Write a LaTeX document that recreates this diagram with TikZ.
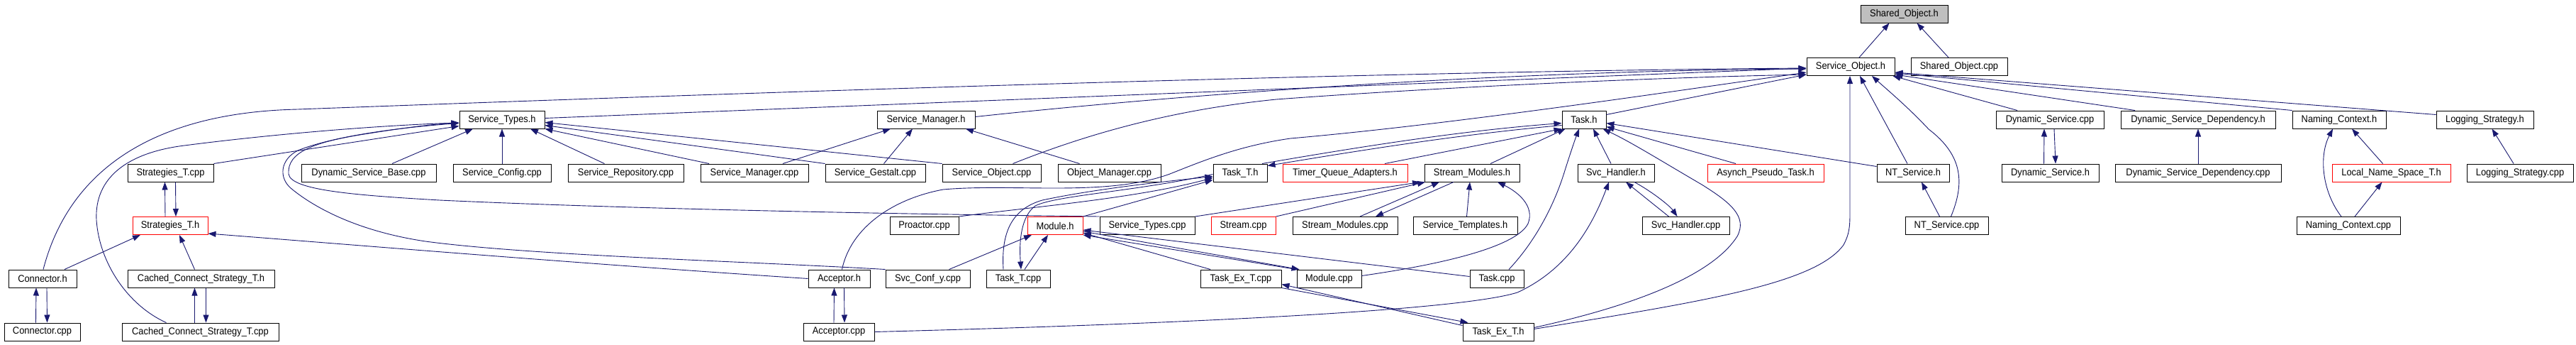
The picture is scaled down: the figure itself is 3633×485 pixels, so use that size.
\documentclass[tikz,border=0pt]{standalone}
\usepackage{fontspec}
\setmainfont{Liberation Sans}[FakeStretch=0.92]
\usetikzlibrary{arrows.meta}
\definecolor{edgeblue}{HTML}{191970}
\definecolor{rootgray}{HTML}{BFBFBF}
\tikzset{
  nbox/.style={draw=black, fill=white, line width=1pt, minimum height=25pt, inner sep=0pt, font=\fontsize{14}{16}\selectfont},
  rbox/.style={nbox, draw=red},
  gbox/.style={nbox, fill=rootgray},
  edge/.style={draw=edgeblue, line width=0.9pt, -{Triangle[length=11pt,width=8pt]}}
}
\begin{document}
\begin{tikzpicture}[x=1pt,y=-1pt]
\fill[white] (0,0) rectangle (3633,485);
\useasboundingbox (0,0) rectangle (3633,485);
% row 0
\node[gbox, minimum width=123pt] (sharedh) at (2685.5,19.5) {Shared\_Object.h};
% row 1
\node[nbox, minimum width=124pt] (svcobjh) at (2610,94) {Service\_Object.h};
\node[nbox, minimum width=136pt] (sharedcpp) at (2763,94) {Shared\_Object.cpp};
% row 2
\node[nbox, minimum width=120pt] (svctypesh) at (708,168.5) {Service\_Types.h};
\node[nbox, minimum width=138pt] (svcmgrh) at (1306,168.5) {Service\_Manager.h};
\node[nbox, minimum width=62pt] (taskh) at (2234,168.5) {Task.h};
\node[nbox, minimum width=152pt] (dyncpp) at (2891,168.5) {Dynamic\_Service.cpp};
\node[nbox, minimum width=218pt] (dsdh) at (3100,168.5) {Dynamic\_Service\_Dependency.h};
\node[nbox, minimum width=132pt] (nch) at (3299,168.5) {Naming\_Context.h};
\node[nbox, minimum width=137pt] (logh) at (3504.5,168.5) {Logging\_Strategy.h};
% row 3
\node[nbox, minimum width=121pt] (stratcpp) at (240.5,243.5) {Strategies\_T.cpp};
\node[nbox, minimum width=190pt] (dsbase) at (520,243.5) {Dynamic\_Service\_Base.cpp};
\node[nbox, minimum width=138pt] (svcconf) at (708,243.5) {Service\_Config.cpp};
\node[nbox, minimum width=163pt] (svcrepo) at (882.5,243.5) {Service\_Repository.cpp};
\node[nbox, minimum width=152pt] (svcmgrcpp) at (1064,243.5) {Service\_Manager.cpp};
\node[nbox, minimum width=141pt] (gestalt) at (1234.5,243.5) {Service\_Gestalt.cpp};
\node[nbox, minimum width=139pt] (svcobjcpp) at (1398.5,243.5) {Service\_Object.cpp};
\node[nbox, minimum width=145pt] (objmgr) at (1564.5,243.5) {Object\_Manager.cpp};
\node[nbox, minimum width=76pt] (tasktH) at (1749,243.5) {Task\_T.h};
\node[rbox, minimum width=176pt] (tqa) at (1897,243.5) {Timer\_Queue\_Adapters.h};
\node[nbox, minimum width=134pt] (smh) at (2076,243.5) {Stream\_Modules.h};
\node[nbox, minimum width=108pt] (svchh) at (2279,243.5) {Svc\_Handler.h};
\node[rbox, minimum width=164pt] (apt) at (2490,243.5) {Asynch\_Pseudo\_Task.h};
\node[nbox, minimum width=102pt] (nth) at (2698,243.5) {NT\_Service.h};
\node[nbox, minimum width=137pt] (dynh) at (2891.5,243.5) {Dynamic\_Service.h};
\node[nbox, minimum width=234pt] (dsdcpp) at (3100,243.5) {Dynamic\_Service\_Dependency.cpp};
\node[rbox, minimum width=167pt] (lnst) at (3372.5,243.5) {Local\_Name\_Space\_T.h};
\node[nbox, minimum width=150pt] (logcpp) at (3554,243.5) {Logging\_Strategy.cpp};
% row 4
\node[rbox, minimum width=106pt] (strath) at (240,318) {Strategies\_T.h};
\node[nbox, minimum width=97pt] (proactor) at (1303.5,318) {Proactor.cpp};
\node[rbox, minimum width=78pt] (moduleh) at (1488,318) {Module.h};
\node[nbox, minimum width=134pt] (svctypescpp) at (1618,318) {Service\_Types.cpp};
\node[rbox, minimum width=91pt] (streamcpp) at (1753.5,318) {Stream.cpp};
\node[nbox, minimum width=148pt] (smcpp) at (1897,318) {Stream\_Modules.cpp};
\node[nbox, minimum width=147pt] (stempl) at (2066.5,318) {Service\_Templates.h};
\node[nbox, minimum width=123pt] (svchcpp) at (2377.5,318) {Svc\_Handler.cpp};
\node[nbox, minimum width=117pt] (ntcpp) at (2745.5,318) {NT\_Service.cpp};
\node[nbox, minimum width=146pt] (nccpp) at (3312,318) {Naming\_Context.cpp};
% row 5
\node[nbox, minimum width=96pt] (connh) at (60,392.5) {Connector.h};
\node[nbox, minimum width=207pt] (ccsth) at (283.5,392.5) {Cached\_Connect\_Strategy\_T.h};
\node[nbox, minimum width=87pt] (acch) at (1183.5,392.5) {Acceptor.h};
\node[nbox, minimum width=119pt] (svcconfy) at (1308.5,392.5) {Svc\_Conf\_y.cpp};
\node[nbox, minimum width=90pt] (tasktcpp) at (1436,392.5) {Task\_T.cpp};
\node[nbox, minimum width=114pt] (taskextcpp) at (1750,392.5) {Task\_Ex\_T.cpp};
\node[nbox, minimum width=91pt] (modcpp) at (1874.5,392.5) {Module.cpp};
\node[nbox, minimum width=76pt] (taskcpp) at (2111,392.5) {Task.cpp};
% row 6
\node[nbox, minimum width=107pt] (conncpp) at (59.5,467.5) {Connector.cpp};
\node[nbox, minimum width=221pt] (ccstcpp) at (282.5,467.5) {Cached\_Connect\_Strategy\_T.cpp};
\node[nbox, minimum width=100pt] (acccpp) at (1183,467.5) {Acceptor.cpp};
\node[nbox, minimum width=100pt] (taskexth) at (2113,467.5) {Task\_Ex\_T.h};

% ---- edges to Shared_Object.h
\draw[edge] ([xshift=12pt]svcobjh.north) -- ([xshift=-21pt]sharedh.south);
\draw[edge] ([xshift=-15pt]sharedcpp.north) -- ([xshift=18pt]sharedh.south);
% ---- edges to Service_Object.h
\draw[edge] ([xshift=1pt]connh.north) .. controls (100,230) and (230,158) .. (420,154) .. controls (1200,125) and (2000,100) .. ([yshift=-2pt]svcobjh.west);
\draw[edge] ([yshift=2pt]svctypesh.east) -- ([yshift=-2pt]svcobjh.west);
\draw[edge] ([yshift=4pt]svcmgrh.east) .. controls (1650,135) and (2100,100) .. ([yshift=-3pt]svcobjh.west);
\draw[edge] ([xshift=30pt]svcobjcpp.north) .. controls (1530,190) and (1650,155) .. (1800,140) .. controls (2000,125) and (2300,110) .. ([yshift=-11pt]svcobjh.west);
\draw[edge] ([yshift=7pt]taskh.east) -- ([yshift=-11pt]svcobjh.west);
\draw[edge] ([xshift=4pt]acch.north) .. controls (1200,320) and (1260,280) .. (1330,267) .. controls (1430,258) and (1560,278) .. (1650,245) .. controls (1700,225) and (1750,205) .. (1820,195) .. controls (2050,175) and (2350,130) .. ([yshift=-8pt]svcobjh.west);
\draw[edge] ([yshift=4pt]taskexth.east) .. controls (2400,425) and (2560,400) .. (2600,345) .. controls (2608,330) and (2609,320) .. (2609,300) -- ([xshift=-1pt]svcobjh.south);
\draw[edge] ([xshift=-8pt]nth.north) -- ([xshift=13pt]svcobjh.south);
\draw[edge] ([xshift=6pt]ntcpp.north) .. controls (2770,260) and (2770,220) .. (2720,182) .. controls (2690,150) and (2660,125) .. ([xshift=30pt]svcobjh.south);
\draw[edge] ([xshift=-10pt]ntcpp.north) -- ([xshift=12pt]nth.south);
\draw[edge] ([xshift=-46pt]dyncpp.north) -- ([xshift=-3pt]svcobjh.south east);
\draw[edge] ([xshift=-89pt]dsdh.north) -- ([yshift=2pt]svcobjh.south east);
\draw[edge] (nch.north west) -- ([yshift=4pt]svcobjh.south east);
\draw[edge] ([yshift=-6pt]logh.north west) -- ([yshift=5pt]svcobjh.south east);
% ---- right-hand group
\draw[edge] ([xshift=-9pt]dynh.north) -- ([xshift=-8pt]dyncpp.south);
\draw[edge] ([xshift=6pt]dyncpp.south) -- ([xshift=7.5pt]dynh.north);
\draw[edge] (dsdcpp.north) -- (dsdh.south);
\draw[edge] ([xshift=-10pt]nccpp.north) .. controls (3275,270) and (3270,220) .. ([xshift=-9pt]nch.south);
\draw[edge] ([xshift=-12pt]lnst.north) -- ([xshift=18pt]nch.south);
\draw[edge] ([xshift=9pt]nccpp.north) -- ([xshift=-13pt]lnst.south);
\draw[edge] ([xshift=-9pt]logcpp.north) -- ([xshift=10pt]logh.south);
% ---- Service_Types.h
\draw[edge] ([xshift=-48pt]ccstcpp.north) .. controls (180,430) and (140,370) .. (136,310) .. controls (133,250) and (180,215) .. (260,205) .. controls (400,187) and (550,176) .. ([yshift=-4.5pt]svctypesh.west);
\draw[edge] (stratcpp.north east) -- ([yshift=-9pt]svctypesh.west);
\draw[edge] (svctypescpp.north west) .. controls (1300,302) and (900,295) .. (620,282) .. controls (500,275) and (410,268) .. (407,245) .. controls (405,215) and (440,200) .. (520,188) .. controls (570,180) and (610,175) .. ([yshift=-4.5pt]svctypesh.west);
\draw[edge] (svcconfy.north west) .. controls (1050,368) and (750,360) .. (600,340) .. controls (500,325) and (440,290) .. (410,265) .. controls (393,250) and (395,225) .. (420,212) .. controls (470,192) and (560,180) .. ([yshift=-5pt]svctypesh.west);
\draw[edge] ([xshift=33pt]dsbase.north) -- ([xshift=-41pt]svctypesh.south);
\draw[edge] (svcconf.north) -- (svctypesh.south);
\draw[edge] ([xshift=-30pt]svcrepo.north) -- ([xshift=40pt]svctypesh.south);
\draw[edge] ([xshift=-64pt]svcmgrcpp.north) -- (svctypesh.south east);
\draw[edge] (gestalt.north west) -- ([yshift=-8pt]svctypesh.east);
\draw[edge] (svcobjcpp.north west) -- ([yshift=-4pt]svctypesh.east);
% ---- Service_Manager.h
\draw[edge] ([xshift=40pt]svcmgrcpp.north) -- ([xshift=-50pt]svcmgrh.south);
\draw[edge] ([xshift=12pt]gestalt.north) -- ([xshift=-19pt]svcmgrh.south);
\draw[edge] ([xshift=-42pt]objmgr.north) -- ([xshift=56pt]svcmgrh.south);
% ---- Module.h
\draw[edge] ([xshift=30pt]svcconfy.north) -- ([xshift=-33pt]moduleh.south);
\draw[edge] ([xshift=9pt]tasktcpp.north) -- ([xshift=-10pt]moduleh.south);
\draw[edge] ([xshift=-43pt]taskextcpp.north) -- ([yshift=3pt]moduleh.south east);
\draw[edge] (modcpp.north west) -- (moduleh.south east);
\draw[edge] ([yshift=-8pt]moduleh.east) -- ([xshift=4pt]modcpp.north west);
\draw[edge] ([yshift=3pt]taskcpp.west) -- ([yshift=-6pt]moduleh.east);
% ---- Task_Ex_T
\draw[edge] (taskextcpp.south east) -- ([xshift=8pt]taskexth.north west);
\draw[edge] ([yshift=-4pt]taskexth.north west) -- ([yshift=5pt]taskextcpp.south east);
% ---- Task.h
\draw[edge] ([xshift=31pt]tasktH.north) .. controls (1900,210) and (2050,185) .. ([yshift=-5pt]taskh.west);
\draw[edge] ([yshift=-8pt]taskh.west) .. controls (2050,190) and (1900,215) .. ([yshift=-3pt]tasktH.north east);
\draw[edge] ([xshift=56pt]tqa.north) -- (taskh.south west);
\draw[edge] ([xshift=26pt]smh.north) -- ([xshift=5pt]taskh.south west);
\draw[edge] ([xshift=17pt]taskcpp.north) .. controls (2170,335) and (2195,280) .. (2207,240) .. controls (2215,215) and (2220,200) .. ([xshift=-7pt]taskh.south);
\draw[edge] ([xshift=-7pt]svchh.north) -- ([xshift=13pt]taskh.south);
\draw[edge] ([yshift=6pt]taskexth.east) .. controls (2330,425) and (2420,380) .. (2450,333) .. controls (2465,305) and (2440,285) .. (2400,260) .. controls (2340,225) and (2300,200) .. ([xshift=-5pt]taskh.south east);
\draw[edge] ([xshift=-42pt]apt.north) -- ([yshift=-10pt]taskh.east);
\draw[edge] ([yshift=-4pt]nth.north west) -- ([yshift=-5pt]taskh.east);
% ---- Svc_Handler
\draw[edge] ([xshift=-24pt]svchcpp.north) -- ([xshift=14pt]svchh.south);
\draw[edge] ([xshift=26pt]svchh.south) .. controls (2330,270) and (2355,290) .. ([xshift=-12pt]svchcpp.north);
\draw[edge] (acccpp.east) .. controls (1600,458) and (2050,440) .. (2140,412) .. controls (2210,380) and (2245,320) .. ([xshift=-10pt]svchh.south);
% ---- Stream_Modules.h
\draw[edge] (svctypescpp.north east) -- ([xshift=-73pt]smh.south);
\draw[edge] (streamcpp.north east) -- ([xshift=-66pt]smh.south);
\draw[edge] ([xshift=21pt]smcpp.north) -- ([xshift=-46pt]smh.south);
\draw[edge] ([xshift=-26pt]smh.south) -- ([xshift=43pt]smcpp.north);
\draw[edge] ([xshift=2pt]stempl.north) -- ([xshift=-3pt]smh.south);
\draw[edge] ([yshift=4pt]modcpp.east) .. controls (2050,370) and (2140,345) .. (2155,315) .. controls (2165,290) and (2140,270) .. ([xshift=36pt]smh.south);
% ---- Task_T.h
\draw[edge] ([yshift=-2pt]tasktH.west) .. controls (1600,270) and (1490,275) .. (1460,290) .. controls (1440,305) and (1437,340) .. ([xshift=4pt]tasktcpp.north);
\draw[edge] ([xshift=-21pt]tasktcpp.north) .. controls (1412,330) and (1425,295) .. (1470,282) .. controls (1550,265) and (1650,255) .. ([yshift=-5pt]tasktH.west);
\draw[edge] (proactor.north east) .. controls (1450,292) and (1600,280) .. ([yshift=-7pt]tasktH.west);
\draw[edge] (moduleh.north east) -- ([yshift=-10pt]tasktH.west);
% ---- Strategies_T.h
\draw[edge] ([xshift=-7pt]strath.north) -- ([xshift=-8pt]stratcpp.south);
\draw[edge] ([xshift=7pt]stratcpp.south) -- ([xshift=8pt]strath.north);
\draw[edge] ([xshift=31pt]connh.north) -- ([xshift=-42pt]strath.south);
\draw[edge] ([xshift=-9pt]ccsth.north) -- ([xshift=13pt]strath.south);
\draw[edge] (acch.west) .. controls (800,370) and (500,345) .. ([yshift=-11pt]strath.east);
% ---- mutual .h/.cpp pairs
\draw[edge] ([xshift=-9pt]conncpp.north) -- ([xshift=-9pt]connh.south);
\draw[edge] ([xshift=6pt]connh.south) -- ([xshift=7pt]conncpp.north);
\draw[edge] ([xshift=-8pt]ccstcpp.north) -- ([xshift=-9pt]ccsth.south);
\draw[edge] ([xshift=7pt]ccsth.south) -- ([xshift=8pt]ccstcpp.north);
\draw[edge] ([xshift=-7pt]acccpp.north) -- ([xshift=-7pt]acch.south);
\draw[edge] ([xshift=7pt]acch.south) -- ([xshift=8pt]acccpp.north);
\end{tikzpicture}
\end{document}
